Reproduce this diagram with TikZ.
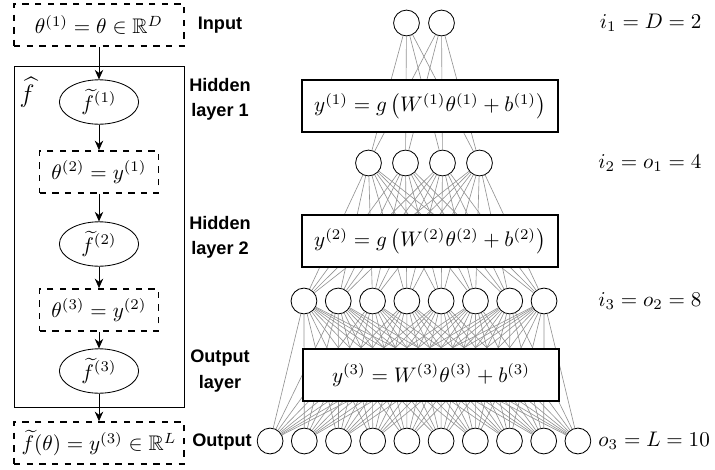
\documentclass[tikz,border=0pt]{standalone}
\usepackage{amsmath}
\usepackage{amssymb}
\usepackage{fontspec}
\newfontfamily\labelfont{Liberation Sans}
\usetikzlibrary{shapes.geometric,arrows.meta}

\begin{document}
\begin{tikzpicture}[x=0.01667cm,y=-0.01667cm]
\tikzstyle{neuron}=[draw,circle,minimum size=0.43cm,inner sep=0pt];
\tikzstyle{dbox}=[draw,dashed,thick,minimum height=0.7cm];
\tikzstyle{func}=[draw,ellipse,minimum width=1.32cm,minimum height=0.74cm,inner sep=1pt];
\tikzstyle{layerbox}=[draw,thick,fill=white,minimum width=4.27cm,minimum height=0.87cm];
\tikzstyle{lbl}=[font=\labelfont\bfseries\fontsize{8.6}{12}\selectfont,align=center];
\tikzstyle{wire}=[draw=gray!85,line width=0.3pt];
\tikzstyle{flow}=[-{Stealth[length=4.5pt,width=4pt]}];

\useasboundingbox (0,0) rectangle (715,469);

% left column
\node[dbox,minimum width=2.83cm] (in) at (99,25) {$\theta^{(1)}=\theta\in\mathbb{R}^D$};
\node[draw,minimum width=2.83cm,minimum height=5.67cm] (fhat) at (99,237) {};
\node at (27,92) {\large$\widehat{f}$};
\node[func] (f1) at (99,102) {$\widetilde{f}^{(1)}$};
\node[dbox,minimum width=1.98cm] (t2) at (99,172) {$\theta^{(2)}=y^{(1)}$};
\node[func] (f2) at (99,244) {$\widetilde{f}^{(2)}$};
\node[dbox,minimum width=1.98cm] (t3) at (99,310) {$\theta^{(3)}=y^{(2)}$};
\node[func] (f3) at (99,371) {$\widetilde{f}^{(3)}$};
\node[dbox,minimum width=2.83cm] (out) at (99,443) {$\widetilde{f}(\theta)=y^{(3)}\in\mathbb{R}^L$};
\draw[flow] (in) -- (f1);
\draw[flow] (f1) -- (t2);
\draw[flow] (t2) -- (f2);
\draw[flow] (f2) -- (t3);
\draw[flow] (t3) -- (f3);
\draw[flow] (f3) -- (out);

% labels
\node[lbl] (lin) at (220,25) {Input};
\node[lbl] (lh1) at (220,99) {Hidden\\layer 1};
\node[lbl] (lh2) at (220,237) {Hidden\\layer 2};
\node[lbl] (lol) at (220,371) {Output\\layer};
\node[lbl] (lout) at (222,442) {Output};

% network
\foreach \i in {1,2}
	\node[neuron] (a\i) at ({424+(\i-1.5)*35},23) {};
\foreach \i in {1,...,4}
	\node[neuron] (b\i) at ({424+(\i-2.5)*37},163) {};
\foreach \i in {1,...,8}
	\node[neuron] (c\i) at ({424+(\i-4.5)*34.3},301) {};
\foreach \i in {1,...,10}
	\node[neuron] (d\i) at ({424+(\i-5.5)*34.2},441) {};
\foreach \i in {1,2}
	\foreach \j in {1,...,4}
		\draw[wire] (a\i) -- (b\j);
\foreach \i in {1,...,4}
	\foreach \j in {1,...,8}
		\draw[wire] (b\i) -- (c\j);
\foreach \i in {1,...,8}
	\foreach \j in {1,...,10}
		\draw[wire] (c\i) -- (d\j);

\node[layerbox] (w1) at (430,106) {$y^{(1)}=g\left(W^{(1)}\theta^{(1)}+b^{(1)}\right)$};
\node[layerbox] (w2) at (430,241) {$y^{(2)}=g\left(W^{(2)}\theta^{(2)}+b^{(2)}\right)$};
\node[layerbox] (w3) at (431,375) {$y^{(3)}=W^{(3)}\theta^{(3)}+b^{(3)}$};

% sizes
\node[anchor=east] (s1) at (709,23) {$i_1=D=2$};
\node[anchor=east] (s2) at (709,163) {$i_2=o_1=4$};
\node[anchor=east] (s3) at (709,301) {$i_3=o_2=8$};
\node[anchor=west] (s4) at (591,441) {$o_3=L=10$};
\end{tikzpicture}
\end{document}
